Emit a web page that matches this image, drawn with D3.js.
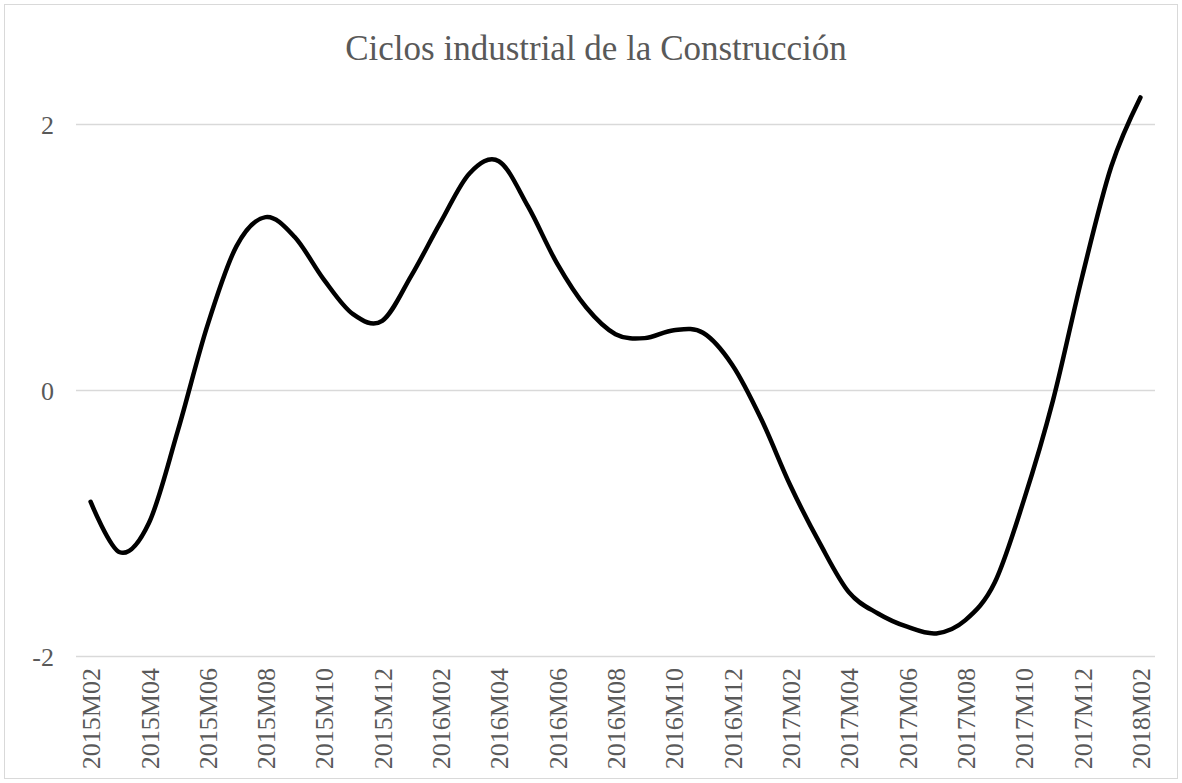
<!DOCTYPE html>
<html>
<head>
<meta charset="utf-8">
<script src="https://cdn.jsdelivr.net/npm/d3@7"></script>
<style>
  body { margin: 0; background: #fff; }
  svg text { font-family: "Liberation Serif", "Times New Roman", serif; fill: #595959; }
</style>
</head>
<body>
<div id="chart"></div>
<script>
// monthly periods 2015M02 .. 2018M02
const months = [
  "2015M02","2015M03","2015M04","2015M05","2015M06","2015M07","2015M08","2015M09","2015M10","2015M11","2015M12",
  "2016M01","2016M02","2016M03","2016M04","2016M05","2016M06","2016M07","2016M08","2016M09","2016M10","2016M11","2016M12",
  "2017M01","2017M02","2017M03","2017M04","2017M05","2017M06","2017M07","2017M08","2017M09","2017M10","2017M11","2017M12",
  "2018M01","2018M02"
];
const cycle = [
  -0.84, -1.22, -1.00, -0.30, 0.48, 1.08, 1.30, 1.15, 0.83, 0.57, 0.52,
  0.86, 1.26, 1.63, 1.72, 1.38, 0.95, 0.62, 0.42, 0.39, 0.45, 0.43, 0.19,
  -0.22, -0.72, -1.15, -1.52, -1.68, -1.78, -1.83, -1.73, -1.45, -0.83, -0.08, 0.85,
  1.68, 2.20
];
const yTicks = [-2, 0, 2];
const xTickLabels = months.filter((d, i) => i % 2 === 0);
const title = "Ciclos industrial de la Construcción";

const w = 1182;
const h = 783;
const m = { left: 76, right: 1155, top: 124, bottom: 656 };

const svg = d3.select("#chart")
  .append("svg")
  .attr("width", w)
  .attr("height", h);

// chart border
svg.append("rect")
  .attr("x", 4.5).attr("y", 4.5)
  .attr("width", w - 9).attr("height", h - 9)
  .attr("fill", "none")
  .attr("stroke", "#d9d9d9");

const x = d3.scalePoint()
  .domain(months)
  .range([m.left, m.right])
  .padding(0.5);

const y = d3.scaleLinear()
  .domain([-2, 2])
  .range([m.bottom, m.top]);

// y axis + gridlines
const yAxis = svg.append("g")
  .attr("transform", "translate(" + m.left + ",0)")
  .call(d3.axisLeft(y).tickValues(yTicks).tickSize(-(m.right - m.left)).tickPadding(22).tickFormat(d => String(d)));
yAxis.select(".domain").remove();
yAxis.selectAll(".tick line").attr("stroke", "#d9d9d9").attr("stroke-width", 1.3);
yAxis.selectAll(".tick text")
  .attr("font-size", 26)
  .attr("dy", "0.35em");

// x axis labels (rotated)
const xAxis = svg.append("g")
  .attr("transform", "translate(0," + m.bottom + ")")
  .call(d3.axisBottom(x).tickValues(xTickLabels).tickSize(0));
xAxis.select(".domain").remove();
xAxis.selectAll(".tick text")
  .attr("font-size", 26)
  .attr("text-anchor", "end")
  .attr("transform", "rotate(-90)")
  .attr("x", -12)
  .attr("y", 0)
  .attr("dy", "0.35em");

// line
const line = d3.line()
  .x((d, i) => x(months[i]))
  .y(d => y(d))
  .curve(d3.curveCatmullRom.alpha(0));

svg.append("path")
  .datum(cycle)
  .attr("fill", "none")
  .attr("stroke", "#000")
  .attr("stroke-width", 4.5)
  .attr("stroke-linejoin", "round")
  .attr("stroke-linecap", "round")
  .attr("d", line);

// title
svg.append("text")
  .attr("x", 596)
  .attr("y", 60)
  .attr("text-anchor", "middle")
  .attr("font-size", 35)
  .text(title);
</script>
</body>
</html>
